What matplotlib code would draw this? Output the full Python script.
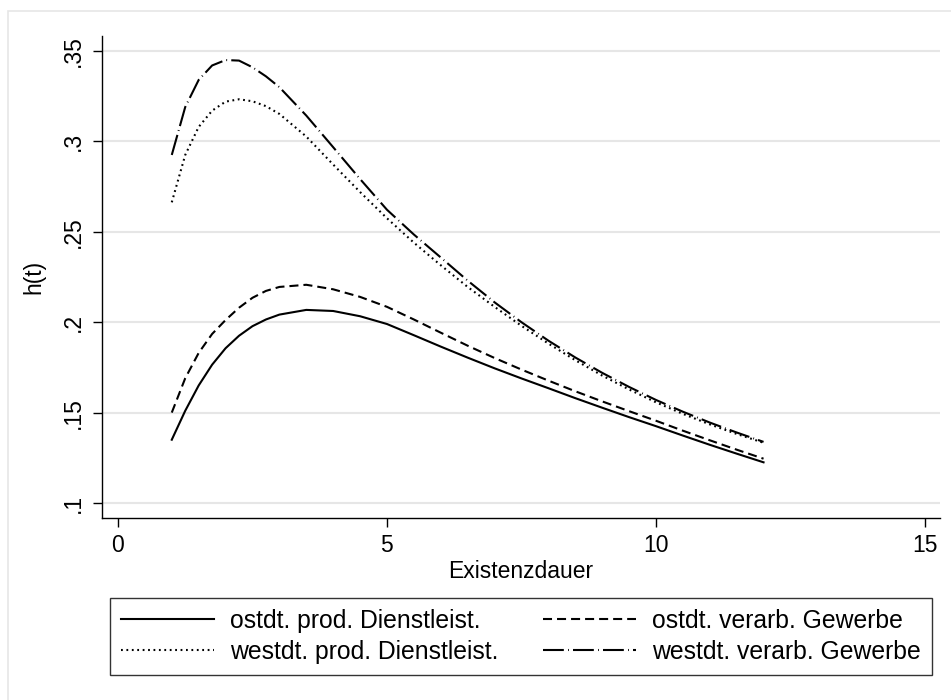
"""Hazard rates h(t) by region and sector (Stata-style line plot)."""

import matplotlib

matplotlib.use("Agg")
import matplotlib.pyplot as plt
from matplotlib.patches import Rectangle

plt.rcParams["font.family"] = ["Liberation Sans", "DejaVu Sans"]
plt.rcParams["lines.scale_dashes"] = False

# Existenzdauer (years)
t = [1, 1.25, 1.5, 1.75, 2, 2.25, 2.5, 2.75, 3, 3.5, 4, 4.5, 5, 5.5, 6,
     6.5, 7, 7.5, 8, 8.5, 9, 9.5, 10, 10.5, 11, 11.5, 12]

ost_prod = [.1350, .1510, .1650, .1765, .1856, .1925, .1978, .2015, .2042, .2068,
            .2062, .2033, .1990, .1928, .1865, .1804, .1745, .1689, .1635, .1580,
            .1527, .1475, .1425, .1373, .1322, .1273, .1225]
ost_verarb = [.1500, .1690, .1830, .1935, .2012, .2080, .2135, .2173, .2195, .2207,
              .2182, .2140, .2085, .2015, .1942, .1870, .1802, .1738, .1677, .1618,
              .1562, .1508, .1455, .1400, .1347, .1295, .1245]
west_prod = [.2663, .2925, .3080, .3170, .3220, .3233, .3222, .3195, .3152, .3027,
             .2872, .2720, .2575, .2440, .2315, .2195, .2085, .1980, .1882, .1790,
             .1705, .1628, .1557, .1493, .1435, .1382, .1333]
west_verarb = [.2925, .3190, .3340, .3420, .3450, .3447, .3410, .3360, .3300, .3143,
               .2968, .2792, .2622, .2485, .2358, .2230, .2110, .2000, .1898, .1805,
               .1720, .1642, .1570, .1505, .1445, .1390, .1338]

labels = ["ostdt. prod. Dienstleist.", "ostdt. verarb. Gewerbe",
          "westdt. prod. Dienstleist.", "westdt. verarb. Gewerbe"]

y_ticks = [.1, .15, .2, .25, .3, .35]
y_ticklabels = [".1", ".15", ".2", ".25", ".3", ".35"]
x_ticks = [0, 5, 10, 15]

W, H = 951, 700
fig = plt.figure(figsize=(W / 100, H / 100), dpi=100)

# light outer frame of the graph region
fig.patches.append(Rectangle((7.5 / W, -0.02), 1.05, (H - 11) / H + 0.02,
                             transform=fig.transFigure, fill=False,
                             edgecolor="#e6e6e6", linewidth=1.2))

ax = fig.add_axes([102 / W, (H - 518) / H, (940 - 102) / W, (518 - 36) / H])

lw = 1.5
l1, = ax.plot(t, ost_prod, color="black", lw=lw, linestyle="-")
l2, = ax.plot(t, ost_verarb, color="black", lw=lw, dashes=(6.5, 3.6))
l3, = ax.plot(t, west_prod, color="black", lw=lw, dashes=(1.3, 2.6))
l4, = ax.plot(t, west_verarb, color="black", lw=lw, dashes=(15, 3, 0.6, 3))

ax.set_xlim(-0.297, 15.28)
ax.set_ylim(0.0917, 0.3583)
ax.set_xticks(x_ticks)
ax.set_yticks(y_ticks)
ax.set_yticklabels(y_ticklabels, rotation=90, va="center")
ax.tick_params(axis="both", direction="out", length=6.5, width=1,
               labelsize=16.5, color="black", pad=5)
ax.tick_params(axis="y", pad=6)
ax.yaxis.grid(True, color="#e6e6e6", linewidth=1.5)
ax.set_axisbelow(True)
for side in ("top", "right"):
    ax.spines[side].set_visible(False)
for side in ("left", "bottom"):
    ax.spines[side].set_linewidth(1)

ax.set_xlabel("Existenzdauer", fontsize=16.5, labelpad=2)
ax.set_ylabel("h(t)", fontsize=16.5, labelpad=12)

leg = fig.legend([l1, l3, l2, l4], [labels[0], labels[2], labels[1], labels[3]],
                 ncol=2, loc="center", bbox_to_anchor=(521 / W, 1 - 636.5 / H),
                 fontsize=17.8, frameon=True, fancybox=False, edgecolor="black",
                 handlelength=3.75, handletextpad=0.65, columnspacing=1.8,
                 borderpad=0.45, labelspacing=0.28)
leg.get_frame().set_linewidth(1)

fig.savefig("out.png", dpi=100, facecolor="white")
